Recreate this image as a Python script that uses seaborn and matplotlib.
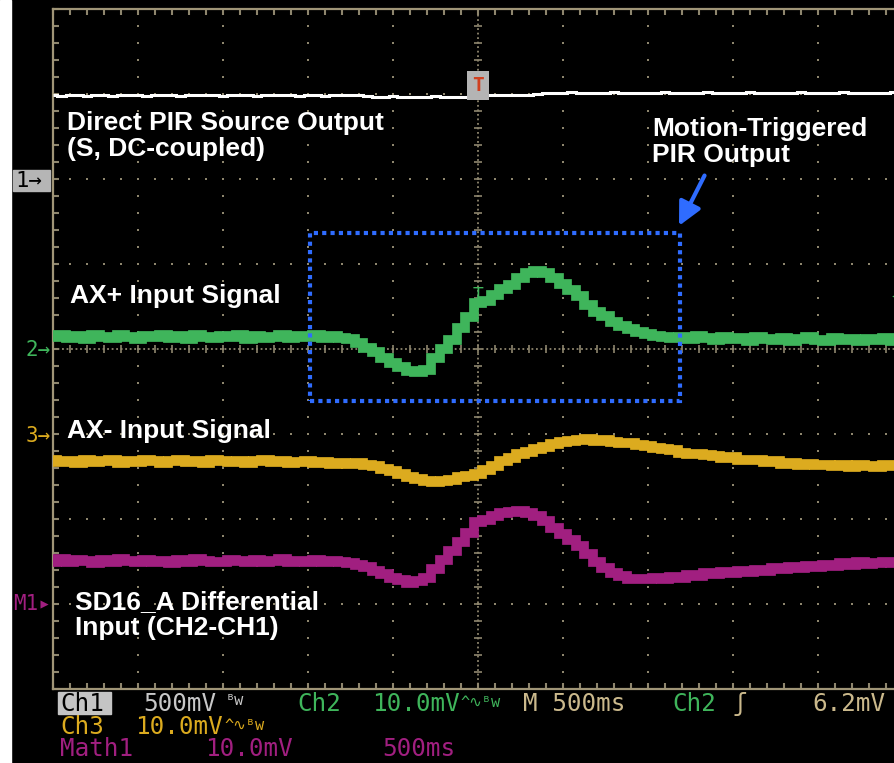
import numpy as np
import pandas as pd
import matplotlib.pyplot as plt
import seaborn as sns
from matplotlib.patches import Rectangle

# scope settings
sec_per_div = 0.5
t_start = -2.5
t_step = 0.05
n_samples = 100
trig_level = 6.2  # mV on Ch2

# volts/div and marker position (div) of each trace
scales = {"Ch1": 500.0, "Ch2": 10.0, "Ch3": 10.0, "Math1": 10.0}
offsets = {"Ch1": 2.0, "Ch2": 0.0, "Ch3": -1.02, "Math1": -3.0}
colors = {"Ch1": "#ffffff", "Ch2": "#3fb55b", "Ch3": "#dcab1f", "Math1": "#a11f80"}
widths = {"Ch1": 2.2, "Ch2": 7.0, "Ch3": 7.0, "Math1": 7.0}

# trace samples (mV)
ch1_mv = [494, 490, 494, 494, 488, 494, 494, 491, 494, 494,
          494, 488, 494, 494, 494, 491, 494, 494, 494, 494,
          488, 494, 494, 494, 491, 494, 494, 494, 494, 488,
          494, 494, 491, 494, 494, 494, 494, 488, 484, 482,
          486, 482, 480, 484, 482, 486, 482, 484, 482, 484,
          488, 494, 494, 496, 497, 496, 497, 500, 503, 506,
          506, 510, 506, 506, 508, 506, 510, 506, 506, 508,
          506, 506, 510, 506, 508, 506, 506, 510, 506, 506,
          508, 506, 510, 506, 506, 508, 506, 506, 510, 506,
          506, 508, 506, 510, 506, 506, 508, 506, 506, 510]

ch2_mv = [1.4, 1.6, 1.3, 1.5, 1.2, 1.6, 1.4, 1.3, 1.7, 1.4,
          1.2, 1.5, 1.4, 1.6, 1.3, 1.5, 1.2, 1.6, 1.4, 1.3,
          1.5, 1.4, 1.6, 1.2, 1.5, 1.3, 1.4, 1.6, 1.3, 1.5,
          1.4, 1.6, 1.3, 1.5, 1.3, 1.2, 0.7, 0.1, -0.4, -1.0,
          -1.6, -2.1, -2.6, -2.7, -2.5, -1.0, 0.0, 1.1, 2.5, 3.8,
          5.4, 5.6, 6.4, 7.1, 7.5, 8.3, 9.0, 9.2, 9.0, 8.3,
          7.6, 6.9, 6.2, 5.2, 4.4, 3.9, 3.2, 2.7, 2.3, 2.0,
          1.8, 1.5, 1.4, 1.3, 1.4, 1.2, 1.5, 1.3, 1.1, 1.4,
          1.2, 1.3, 1.0, 1.4, 1.2, 1.1, 1.3, 1.0, 1.2, 1.4,
          1.1, 1.0, 1.3, 1.1, 1.2, 0.9, 1.2, 1.1, 1.3, 1.0]

ch3_mv = [-2.8, -3.1, -3.0, -3.2, -2.9, -3.1, -3.0, -2.8, -3.2, -3.0,
          -3.1, -2.9, -3.0, -3.2, -3.0, -2.9, -3.1, -3.0, -3.2, -2.9,
          -3.0, -3.1, -3.0, -3.2, -3.0, -2.9, -3.1, -3.0, -3.2, -3.1,
          -3.0, -3.2, -3.1, -3.3, -3.2, -3.3, -3.2, -3.4, -3.6, -3.9,
          -4.2, -4.5, -4.8, -5.1, -5.3, -5.4, -5.3, -5.2, -4.9, -4.7,
          -4.5, -4.0, -3.6, -3.0, -2.6, -2.2, -1.9, -1.6, -1.3, -1.0,
          -0.7, -0.6, -0.5, -0.4, -0.6, -0.5, -0.7, -0.8, -0.9, -1.1,
          -1.2, -1.5, -1.6, -1.7, -2.0, -2.1, -2.2, -2.3, -2.4, -2.6,
          -2.5, -2.8, -2.9, -2.8, -3.1, -3.0, -3.3, -3.2, -3.4, -3.3,
          -3.5, -3.4, -3.6, -3.5, -3.7, -3.5, -3.6, -3.7, -3.5, -3.6]

math1_mv = [5.0, 5.3, 4.9, 5.2, 5.1, 4.8, 5.2, 5.0, 5.3, 5.1,
            4.9, 5.2, 5.0, 5.1, 4.8, 5.2, 5.0, 5.3, 5.1, 4.9,
            5.0, 5.2, 5.1, 4.9, 5.2, 5.0, 5.1, 5.3, 5.0, 5.1,
            4.9, 5.2, 5.0, 5.1, 5.0, 4.8, 4.6, 4.3, 3.9, 3.5,
            3.1, 2.8, 2.5, 2.7, 3.1, 4.1, 5.2, 6.2, 7.3, 8.4,
            9.6, 9.9, 10.4, 10.7, 10.8, 10.9, 10.7, 10.3, 9.8, 8.9,
            8.2, 7.5, 6.8, 5.9, 5.0, 4.2, 3.7, 3.3, 3.0, 3.0,
            2.9, 3.1, 2.9, 3.2, 3.1, 3.4, 3.3, 3.6, 3.5, 3.8,
            3.7, 3.9, 3.8, 4.0, 3.9, 4.2, 4.1, 4.3, 4.2, 4.5,
            4.3, 4.6, 4.5, 4.8, 4.6, 4.9, 4.7, 4.8, 5.0, 4.8]

time = t_start + t_step * np.arange(n_samples)
traces = {"Ch1": ch1_mv, "Ch2": ch2_mv, "Ch3": ch3_mv, "Math1": math1_mv}
df = pd.concat(
    [
        pd.DataFrame({"time": time, "div": offsets[ch] + np.array(v) / scales[ch], "channel": ch})
        for ch, v in traces.items()
    ],
    ignore_index=True,
)

sns.set_style("dark", {"axes.facecolor": "black", "figure.facecolor": "black"})
plt.rcParams["font.family"] = ["Liberation Sans", "DejaVu Sans"]

W, H = 894, 763
fig = plt.figure(figsize=(W / 100, H / 100), dpi=100)
fig.patches.append(Rectangle((0, 0), 11 / W, 1, transform=fig.transFigure, color="white", zorder=0))

# graticule: left 53 px, top 9 px, 85 px per division
ax = fig.add_axes([53 / W, (H - 689) / H, (W - 53) / W, 680 / H])
ax.set_facecolor("black")
t_right = t_start + (W - 53) / 85 * sec_per_div

gcol = "#8e866e"
xs_minor = np.arange(t_start, -t_start + 1e-9, sec_per_div / 5)
ys_minor = np.arange(-4, 4.0001, 0.2)
for yl in [-3, -2, -1, 1, 2, 3]:
    ax.scatter(xs_minor, np.full_like(xs_minor, yl), s=2.5, marker="s", color=gcol, lw=0, zorder=1)
for k in range(1, 10):
    xl = t_start + k * sec_per_div
    if abs(xl) < 1e-9:
        continue
    ax.scatter(np.full_like(ys_minor, xl), ys_minor, s=2.5, marker="s", color=gcol, lw=0, zorder=1)

# center crosshair, dense dots with ticks
ax.axvline(0, color=gcol, lw=1.3, ls=(0, (1, 1.5)), zorder=1)
ax.axhline(0, color=gcol, lw=1.3, ls=(0, (1, 1.5)), zorder=1)
ax.scatter(np.zeros_like(ys_minor), ys_minor, marker="_", s=30, color=gcol, lw=1.2, zorder=1)
ax.scatter(xs_minor, np.zeros_like(xs_minor), marker="|", s=30, color=gcol, lw=1.2, zorder=1)

for ch in traces:
    sns.lineplot(data=df[df["channel"] == ch], x="time", y="div", color=colors[ch],
                 estimator=None, drawstyle="steps-mid", lw=widths[ch], ax=ax,
                 legend=False, zorder=3, solid_capstyle="butt", solid_joinstyle="miter")
ax.set_xlabel("")
ax.set_ylabel("")

ax.set_xticks(np.arange(t_start, -t_start + 1e-9, sec_per_div))
ax.set_xticks(xs_minor, minor=True)
ax.set_yticks(np.arange(-4, 5, 1))
ax.set_yticks(ys_minor, minor=True)
ax.tick_params(which="both", direction="in", top=True, bottom=True, left=True, right=False,
               color=gcol, length=4, width=1.5, labelbottom=False, labelleft=False)
for side in ["left", "top", "bottom"]:
    ax.spines[side].set_color("#a09577")
    ax.spines[side].set_linewidth(1.6)
ax.spines["right"].set_visible(False)
ax.grid(False)

# trigger markers
ax.text(0, (349 - 76) / 85, "T", color="#d04020", fontsize=14, fontweight="bold",
        ha="center", va="top", family="DejaVu Sans Mono",
        bbox=dict(boxstyle="square,pad=0.25", fc="#b4b4b4", ec="none"), zorder=4)
trig_div = offsets["Ch2"] + trig_level / scales["Ch2"]
ax.text(0, trig_div + 0.12, "T", color=colors["Ch2"], fontsize=13, ha="center", va="top",
        family="DejaVu Sans Mono", zorder=4)
ax.scatter([t_right + 0.045], [trig_div], marker="<", s=220, color=colors["Ch2"], lw=0,
           clip_on=False, zorder=4)

# dotted box around the triggered event and arrow
box_col = "#2f6cff"
ax.add_patch(Rectangle((-0.988, -0.612), 2.176, 1.977, fill=False, ec=box_col, lw=3,
                       ls=(0, (1, 1)), zorder=5))
ax.annotate("", xy=(1.175, 1.42), xytext=(1.34, 2.07),
            arrowprops=dict(arrowstyle="-|>,head_length=1.4,head_width=0.7", color=box_col, lw=3),
            zorder=5)

note = dict(color="white", fontsize=19, fontweight="bold", va="top", linespacing=1.1, zorder=6)
ax.text(-2.418, 2.80, "Direct PIR Source Output\n(S, DC-coupled)", **note)
ax.text(1.024, 2.73, "Motion-Triggered\nPIR Output", **note)
ax.text(-2.40, 0.76, "AX+ Input Signal", **note)
ax.text(-2.418, -0.82, "AX- Input Signal", **note)
ax.text(-2.37, -2.84, "SD16_A Differential\nInput (CH2-CH1)", **note)

ax.set_xlim(t_start, t_right)
ax.set_ylim(-4, 4)

# channel reference markers left of the graticule
mono = ["DejaVu Sans Mono", "DejaVu Sans"]
fig.patches.append(Rectangle((13 / W, 1 - 191 / H), 37 / W, 21 / H, transform=fig.transFigure,
                             color="#b5b5b5", zorder=1))
fig.text(15 / W, 1 - 181 / H, "1\u2192", color="black", fontsize=16, family=mono, va="center")
fig.text(51 / W, 1 - 350 / H, "2\u2192", color=colors["Ch2"], fontsize=15, family=mono, ha="right", va="center")
fig.text(51 / W, 1 - 436 / H, "3\u2192", color=colors["Ch3"], fontsize=15, family=mono, ha="right", va="center")
fig.text(51 / W, 1 - 604 / H, "M1\u25b8", color=colors["Math1"], fontsize=15, family=mono, ha="right", va="center")

# status readout
def status(x, y, s, c, size=17.5, **kw):
    fig.text(x / W, 1 - y / H, s, color=c, fontsize=size, family=mono, va="baseline", **kw)

tan = "#cbb98c"
fig.patches.append(Rectangle((58 / W, 1 - 714 / H), 53 / W, 22 / H, transform=fig.transFigure,
                             color="#c4c4c4", zorder=1))
status(60, 711, "Ch1", "black")
status(143, 711, "500mV", "#c8c8c8")
status(226, 705, "ᴮw", "#c8c8c8", size=11)
status(297, 711, "Ch2", colors["Ch2"])
status(372, 711, "10.0mV", colors["Ch2"])
status(460, 707, "^\u223fᴮw", colors["Ch2"], size=11)
status(523, 711, "M 500ms", tan)
status(672, 711, "Ch2", colors["Ch2"])
status(733, 711, "\u0283", tan)
status(812, 711, "6.2mV", tan)
status(60, 734, "Ch3", colors["Ch3"])
status(135, 734, "10.0mV", colors["Ch3"])
status(224, 730, "^\u223fᴮw", colors["Ch3"], size=11)
status(60, 756, "Math1", colors["Math1"])
status(205, 756, "10.0mV", colors["Math1"])
status(382, 756, "500ms", colors["Math1"])

fig.savefig("out.png", dpi=100, facecolor="black")
